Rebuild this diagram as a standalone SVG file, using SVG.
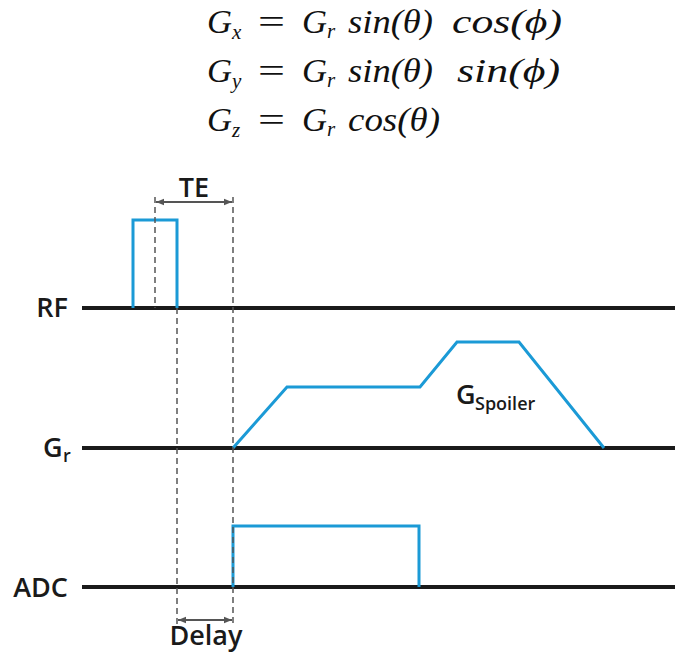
<svg xmlns="http://www.w3.org/2000/svg" width="675" height="654" viewBox="0 0 675 654">
<style>
.eq{font-family:"Liberation Serif","DejaVu Serif",serif;font-style:italic;font-size:33px;fill:#111}
.eqs{font-family:"Liberation Serif","DejaVu Serif",serif;font-style:italic;font-size:21px;fill:#111}
.eqo{font-family:"Liberation Serif","DejaVu Serif",serif;font-size:33px;fill:#111}
.lbl{font-family:"Open Sans","Liberation Sans",sans-serif;font-weight:600;font-size:27px;fill:#1a1a1a}
.sub{font-family:"Open Sans","Liberation Sans",sans-serif;font-weight:600;font-size:18px;fill:#1a1a1a}
.axis{stroke:#1a1a1a;stroke-width:4;fill:none}
.wave{stroke:#1b9ad6;stroke-width:3;fill:none;stroke-linejoin:miter}
.dash{stroke:#555;stroke-width:1.5;stroke-dasharray:6,4;fill:none}
.dim{stroke:#555;stroke-width:2;fill:none;marker-start:url(#ah);marker-end:url(#ah)}
</style>
<defs>
<marker id="ah" viewBox="0 0 10 10" refX="10" refY="5" markerWidth="8" markerHeight="8" markerUnits="userSpaceOnUse" orient="auto-start-reverse">
<path d="M0,1 L10,5 L0,9 z" fill="#555"/>
</marker>
</defs>
<g id="equations">
<text class="eq" x="207" y="33" textLength="25" lengthAdjust="spacingAndGlyphs">G</text>
<text class="eqs" x="232" y="39">x</text>
<text class="eqo" x="258" y="33" textLength="27" lengthAdjust="spacingAndGlyphs">=</text>
<text class="eq" x="302" y="33" textLength="25" lengthAdjust="spacingAndGlyphs">G</text>
<text class="eqs" x="327" y="38">r</text>
<text class="eq" x="348" y="33" textLength="85" lengthAdjust="spacingAndGlyphs">sin(θ)</text>
<text class="eq" x="452" y="33" textLength="110" lengthAdjust="spacingAndGlyphs">cos(ϕ)</text>

<text class="eq" x="207" y="82" textLength="25" lengthAdjust="spacingAndGlyphs">G</text>
<text class="eqs" x="232" y="88">y</text>
<text class="eqo" x="258" y="82" textLength="27" lengthAdjust="spacingAndGlyphs">=</text>
<text class="eq" x="302" y="82" textLength="25" lengthAdjust="spacingAndGlyphs">G</text>
<text class="eqs" x="327" y="87">r</text>
<text class="eq" x="348" y="82" textLength="85" lengthAdjust="spacingAndGlyphs">sin(θ)</text>
<text class="eq" x="457" y="82" textLength="103" lengthAdjust="spacingAndGlyphs">sin(ϕ)</text>

<text class="eq" x="207" y="131" textLength="25" lengthAdjust="spacingAndGlyphs">G</text>
<text class="eqs" x="232" y="137">z</text>
<text class="eqo" x="258" y="131" textLength="27" lengthAdjust="spacingAndGlyphs">=</text>
<text class="eq" x="302" y="131" textLength="25" lengthAdjust="spacingAndGlyphs">G</text>
<text class="eqs" x="327" y="136">r</text>
<text class="eq" x="348" y="131" textLength="92" lengthAdjust="spacingAndGlyphs">cos(θ)</text>
</g>
<g id="RF">
<line class="axis" x1="82" y1="308" x2="675" y2="308"/>
<text class="lbl" x="68" y="317" text-anchor="end">RF</text>
</g>
<g id="Gr">
<line class="axis" x1="82" y1="448" x2="675" y2="448"/>
<text class="lbl" x="43" y="457">G</text>
<text class="sub" x="63" y="462">r</text>
</g>
<g id="ADC">
<line class="axis" x1="82" y1="587" x2="675" y2="587"/>
<text class="lbl" x="68" y="597" text-anchor="end">ADC</text>
</g>
<g id="rf-pulse">
<polyline class="wave" points="133,308 133,220 177,220 177,308"/>
</g>
<g id="gr-wave">
<polyline class="wave" points="233,448 287,387 420,387 457,342 519,342 604,448"/>
<text class="lbl" x="456" y="404">G</text>
<text class="sub" x="475" y="410">Spoiler</text>
</g>
<g id="adc-pulse">
<polyline class="wave" points="233,587 233,526 419,526 419,587"/>
</g>
<g id="connectors">
<line class="dash" x1="155" y1="197" x2="155" y2="308"/>
<line class="dash" x1="177" y1="308" x2="177" y2="625"/>
<line class="dash" x1="233" y1="197" x2="233" y2="625"/>
<line class="dim" x1="156" y1="202" x2="232" y2="202"/>
<line class="dim" x1="178" y1="620" x2="232" y2="620"/>
</g>
<g id="TE">
<text class="lbl" x="194" y="197" text-anchor="middle">TE</text>
</g>
<g id="Delay">
<text class="lbl" x="206" y="645" text-anchor="middle" font-size="26">Delay</text>
</g>
</svg>
